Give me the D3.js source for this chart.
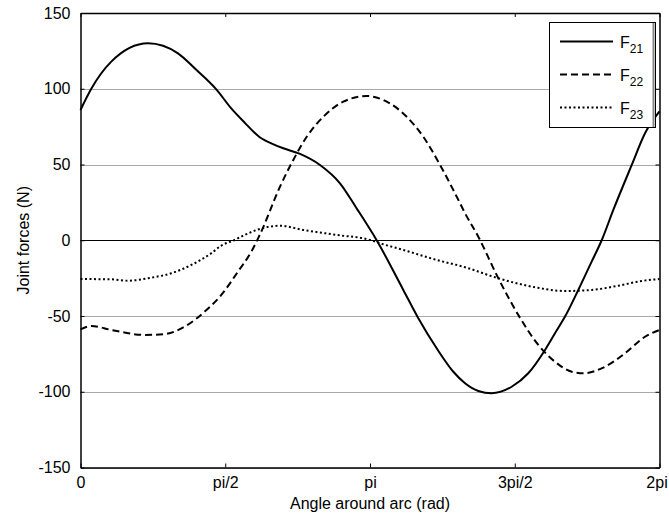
<!DOCTYPE html>
<html>
<head>
<meta charset="utf-8">
<script src="https://cdn.jsdelivr.net/npm/d3@7"></script>
<style>
  html, body { margin: 0; padding: 0; background: #fff; }
  svg { display: block; font-family: "Liberation Sans", Arial, sans-serif; }
</style>
</head>
<body>
<svg id="chart" width="669" height="521"></svg>
<script>
// Joint forces around the arc, angle in radians
const f21Angle = [0, 0.117, 0.334, 0.733, 1.058, 1.239, 1.474, 1.636, 1.782, 1.945, 2.089, 2.201, 2.382, 2.599, 2.816, 2.997, 3.214, 3.503, 3.666, 3.865, 4.046, 4.173, 4.317, 4.462, 4.679, 4.859, 5.041, 5.149, 5.258, 5.402, 5.547, 5.656, 5.782, 5.982, 6.126, 6.283];
const f21Value = [86, 100, 117.9, 130, 123.4, 113.5, 99.6, 87, 77.6, 68, 63.5, 60.7, 57, 49.7, 37.6, 21, 0, -32.8, -51.5, -71.3, -86.8, -94.4, -99.5, -101, -96.7, -87.8, -72.4, -61.4, -50.4, -32.8, -14.1, 0, 20, 49.7, 70.6, 85];

const f22Angle = [0, 0.117, 0.334, 0.697, 0.914, 1.131, 1.348, 1.528, 1.709, 1.854, 1.945, 2.165, 2.309, 2.455, 2.635, 2.852, 3.106, 3.286, 3.540, 3.720, 3.902, 4.083, 4.173, 4.317, 4.534, 4.751, 4.968, 5.149, 5.331, 5.456, 5.692, 5.909, 6.126, 6.283];
const f22Value = [-58.8, -56.6, -59.2, -62.5, -61.9, -57, -47.1, -36.1, -20.7, -7.5, 3.5, 35.4, 53, 68.3, 81.5, 91.5, 95.2, 92.6, 81.5, 68.3, 49.7, 28.7, 17.8, 2.3, -25.1, -49.3, -69.1, -80.2, -86.8, -87.8, -83.5, -74.6, -63.7, -59.2];

const f23Angle = [0, 0.334, 0.515, 0.768, 0.985, 1.202, 1.419, 1.528, 1.666, 1.782, 1.948, 2.165, 2.418, 2.780, 3.142, 3.250, 3.503, 3.865, 4.173, 4.534, 4.896, 5.258, 5.547, 5.836, 6.090, 6.283];
const f23Value = [-25.6, -25.8, -26.7, -24.7, -21.8, -16.3, -8.6, -3.5, 0, 3.5, 7.5, 9.6, 6.8, 3.5, 0.2, -2, -6.4, -13, -17.8, -25.1, -30.6, -33.5, -32.8, -30, -26.9, -25.6];

const xTickValues = [0, Math.PI / 2, Math.PI, 3 * Math.PI / 2, 2 * Math.PI];
const xTickLabels = ["0", "pi/2", "pi", "3pi/2", "2pi"];
const yTickValues = [-150, -100, -50, 0, 50, 100, 150];

const seriesNames = ["21", "22", "23"];
const seriesDash = [null, "7,4", "2,2.5"];

const svg = d3.select("#chart");
const plotLeft = 80.5, plotRight = 659.5, plotTop = 13, plotBottom = 467.5;

const x = d3.scaleLinear().domain([0, 2 * Math.PI]).range([plotLeft, plotRight]);
const y = d3.scaleLinear().domain([-150, 150]).range([plotBottom, plotTop]);

// horizontal grid
svg.append("g").selectAll("line")
  .data(yTickValues.filter(v => v !== 0))
  .join("line")
  .attr("x1", plotLeft).attr("x2", plotRight)
  .attr("y1", d => Math.round(y(d)) + 0.5).attr("y2", d => Math.round(y(d)) + 0.5)
  .attr("stroke", "#a8a8a8").attr("stroke-width", 1);

// zero reference line
svg.append("line")
  .attr("x1", plotLeft).attr("x2", plotRight)
  .attr("y1", Math.round(y(0)) + 0.5).attr("y2", Math.round(y(0)) + 0.5)
  .attr("stroke", "#000").attr("stroke-width", 1);

// data curves
const series = [
  f21Angle.map((a, i) => [a, f21Value[i]]),
  f22Angle.map((a, i) => [a, f22Value[i]]),
  f23Angle.map((a, i) => [a, f23Value[i]])
];
const line = d3.line().x(d => x(d[0])).y(d => y(d[1])).curve(d3.curveMonotoneX);

svg.append("g").selectAll("path")
  .data(series)
  .join("path")
  .attr("d", line)
  .attr("fill", "none")
  .attr("stroke", "#000")
  .attr("stroke-width", 2)
  .attr("stroke-dasharray", (d, i) => seriesDash[i]);

// axes box with inward ticks on all sides
const xAxisB = d3.axisBottom(x).tickValues(xTickValues).tickFormat((d, i) => xTickLabels[i]).tickSizeInner(-4).tickSizeOuter(0).tickPadding(9);
const xAxisT = d3.axisTop(x).tickValues(xTickValues).tickFormat("").tickSizeInner(-4).tickSizeOuter(0);
const yAxisL = d3.axisLeft(y).tickValues(yTickValues).tickFormat(d => String(d)).tickSizeInner(-4).tickSizeOuter(0).tickPadding(10);
const yAxisR = d3.axisRight(y).tickValues(yTickValues).tickFormat("").tickSizeInner(-4).tickSizeOuter(0);

function styleAxis(g) {
  g.select(".domain").attr("stroke", "#000").attr("stroke-width", 1.5);
  g.selectAll(".tick line").attr("stroke", "#000");
  g.selectAll("text").attr("font-size", 16).attr("fill", "#000").attr("font-family", "Liberation Sans, Arial, sans-serif");
}

svg.append("g").attr("transform", `translate(0,${plotBottom})`).call(xAxisB).call(styleAxis)
  .selectAll(".tick text").attr("dx", (d, i) => i === xTickValues.length - 1 ? -3 : 0);
svg.append("g").attr("transform", `translate(0,${plotTop})`).call(xAxisT).call(styleAxis);
svg.append("g").attr("transform", `translate(${plotLeft},0)`).call(yAxisL).call(styleAxis);
svg.append("g").attr("transform", `translate(${plotRight},0)`).call(yAxisR).call(styleAxis);

// axis titles
svg.append("text")
  .attr("x", (plotLeft + plotRight) / 2).attr("y", 509)
  .attr("text-anchor", "middle").attr("font-size", 16)
  .text("Angle around arc (rad)");

svg.append("text")
  .attr("transform", `translate(29,${(plotTop + plotBottom) / 2}) rotate(-90)`)
  .attr("text-anchor", "middle").attr("font-size", 16)
  .text("Joint forces (N)");

// legend
const lg = svg.append("g");
lg.append("rect")
  .attr("x", 549.5).attr("y", 22.5).attr("width", 106).attr("height", 105)
  .attr("fill", "#fff").attr("stroke", "#000").attr("stroke-width", 1);
lg.append("line")
  .attr("x1", 653.5).attr("x2", 653.5).attr("y1", 23).attr("y2", 127)
  .attr("stroke", "#888").attr("stroke-width", 2);

const legendY = [41.5, 74.5, 107.5];
seriesNames.forEach((name, i) => {
  lg.append("line")
    .attr("x1", 560).attr("x2", 613)
    .attr("y1", legendY[i]).attr("y2", legendY[i])
    .attr("stroke", "#000").attr("stroke-width", 2)
    .attr("stroke-dasharray", seriesDash[i]);
  const t = lg.append("text")
    .attr("x", 620).attr("y", legendY[i] + 6)
    .attr("font-size", 16);
  t.append("tspan").text("F");
  t.append("tspan").attr("font-size", 12).attr("dy", 5).text(name);
});
</script>
</body>
</html>
